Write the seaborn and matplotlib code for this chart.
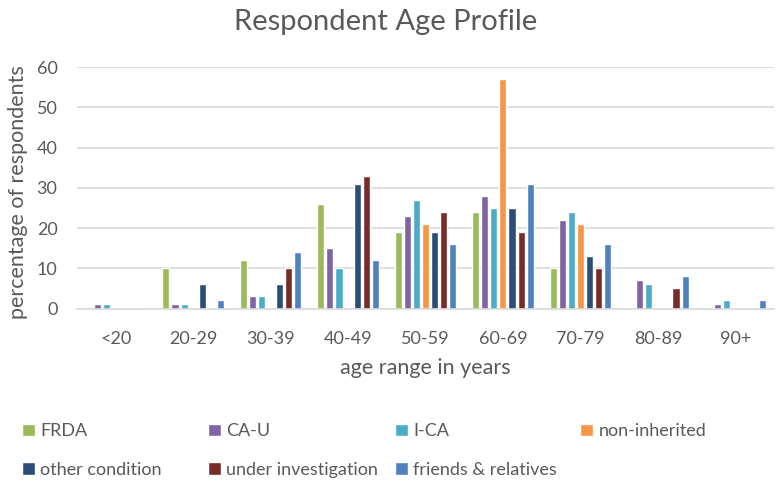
import pandas as pd
import seaborn as sns
import matplotlib.pyplot as plt

ages = ['<20', '20-29', '30-39', '40-49', '50-59', '60-69', '70-79', '80-89', '90+']
groups = ['FRDA', 'CA-U', 'I-CA', 'non-inherited', 'other condition',
          'under investigation', 'friends & relatives']

frda = [0, 10, 12, 26, 19, 24, 10, 0, 0]
ca_u = [1, 1, 3, 15, 23, 28, 22, 7, 1]
i_ca = [1, 1, 3, 10, 27, 25, 24, 6, 2]
non_inherited = [0, 0, 0, 0, 21, 57, 21, 0, 0]
other_condition = [0, 6, 6, 31, 19, 25, 13, 0, 0]
under_investigation = [0, 0, 10, 33, 24, 19, 10, 5, 0]
friends_relatives = [0, 2, 14, 12, 16, 31, 16, 8, 2]

colors = ['#9BBB59', '#8064A2', '#4BACC6', '#F79646', '#2C4D75', '#772C2A', '#4F81BD']

series = [frda, ca_u, i_ca, non_inherited, other_condition,
          under_investigation, friends_relatives]
rows = []
for g, vals in zip(groups, series):
    for a, v in zip(ages, vals):
        rows.append({'age': a, 'group': g, 'pct': v})
df = pd.DataFrame(rows)

sns.set_style('white')
plt.rcParams['font.family'] = ['Lato', 'DejaVu Sans']
grey = '#595959'

fig = plt.figure(figsize=(7.83, 4.87), dpi=100)
ax = fig.add_axes([77 / 783, 1 - 308.5 / 487, 697 / 783, 241.5 / 487])

sns.barplot(data=df, x='age', y='pct', hue='group', order=ages, hue_order=groups,
            palette=colors, width=0.82, gap=0.22, saturation=1, ax=ax)

handles, labels = ax.get_legend_handles_labels()
ax.get_legend().remove()

ax.set_ylim(0, 60)
ax.set_yticks(range(0, 61, 10))
ax.yaxis.grid(True, color='#D9D9D9', linewidth=1.2)
ax.set_axisbelow(True)
for s in ['top', 'right', 'left']:
    ax.spines[s].set_visible(False)
ax.spines['bottom'].set_color('#D9D9D9')
ax.spines['bottom'].set_linewidth(1.2)
ax.tick_params(axis='both', length=0, labelsize=13, colors=grey)
ax.tick_params(axis='x', pad=16)
ax.tick_params(axis='y', pad=14)
ax.set_xlabel('age range in years', fontsize=15.5, color=grey, labelpad=8)
ax.set_ylabel('percentage of respondents', fontsize=15.5, color=grey)
ax.yaxis.set_label_coords((28 - 77) / 697, 0.48)

fig.text(0.493, 1 - 22 / 487, 'Respondent Age Profile', ha='center', va='center',
         fontsize=21, color=grey)

# legend: 4 equal-width columns, 2 rows
col_x = [15, 201, 388, 573]
for c in range(4):
    idx = [c, c + 4] if c + 4 < len(groups) else [c]
    leg = fig.legend([handles[i] for i in idx], [labels[i] for i in idx],
                     loc='upper left', bbox_to_anchor=(col_x[c] / 783, 1 - 416 / 487),
                     frameon=False, fontsize=13, handlelength=0.7, handleheight=0.7,
                     handletextpad=0.3, labelspacing=1.25, borderaxespad=0)
    for t in leg.get_texts():
        t.set_color(grey)

fig.savefig('out.png', dpi=100)
